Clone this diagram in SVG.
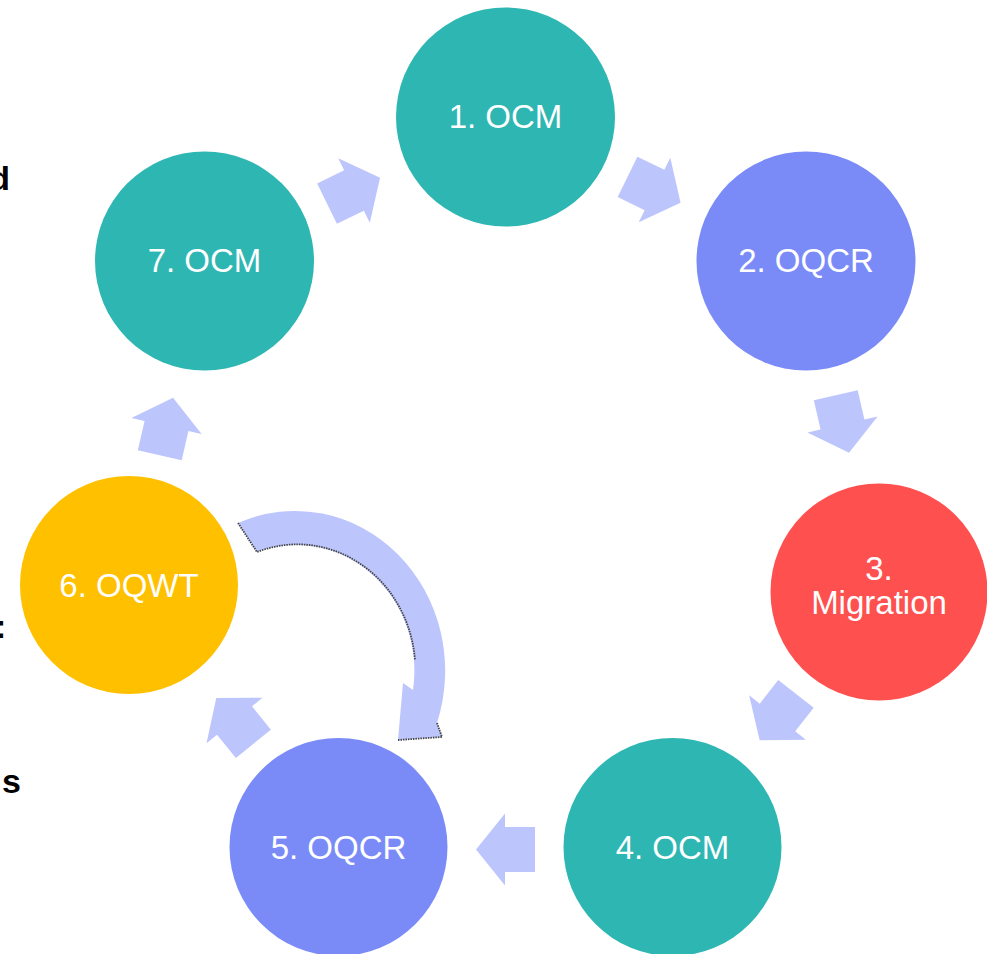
<svg xmlns="http://www.w3.org/2000/svg" width="987" height="954" viewBox="0 0 987 954">
<style>
.lbl{font-family:"Liberation Sans",Arial,sans-serif;font-size:33px;fill:#ffffff;text-anchor:middle}
.edge{font-family:"Liberation Sans",Arial,sans-serif;font-size:34px;font-weight:bold;fill:#000000}
.teal{fill:#2EB6B3}
.blue{fill:#7A8BF8}
.red{fill:#FF5050}
.yellow{fill:#FFC000}
.arr{fill:#BDC5FD}
.rim{fill:none;stroke:#444444;stroke-width:1.8;stroke-dasharray:1.5 1}
</style>
<defs>
<path id="blk" d="M-30,-22.5 L0,-22.5 L0,-36 L29,0 L0,36 L0,22.5 L-30,22.5 Z"/>
</defs>
<rect width="987" height="954" fill="#ffffff"/>
<text class="edge" x="10" y="190" text-anchor="end">d</text>
<text class="edge" x="-5" y="638">:</text>
<text class="edge" x="2" y="793">s</text>
<g id="connectors">
<use href="#blk" class="arr" transform="translate(354,190.5) rotate(-26)"/>
<use href="#blk" class="arr" transform="translate(654.5,190) rotate(26)"/>
<use href="#blk" class="arr" transform="translate(842.5,424.5) rotate(77)"/>
<use href="#blk" class="arr" transform="translate(777.5,717.5) rotate(128)"/>
<use href="#blk" class="arr" transform="translate(505,849.5) rotate(180)"/>
<use href="#blk" class="arr" transform="translate(234.5,720.5) rotate(231)"/>
<use href="#blk" class="arr" transform="translate(166.5,426) rotate(283)"/>
<g id="curved-arrow">
<path class="arr" d="M238,523 A150,160 0 0 1 437,723 L442,737 L398,740 L403,683 L413,690 A118,126 0 0 0 257,552 Z"/>
<path class="rim" d="M238,523 L257,552 A118,126 0 0 1 415,660"/>
<path class="rim" d="M437,723 L442,737 L398,740"/>
</g>
</g>
<g id="n1"><circle class="teal" cx="505.5" cy="117" r="109.5"/><text class="lbl" x="505.5" y="128">1. OCM</text></g>
<g id="n2"><circle class="blue" cx="806" cy="261" r="109.5"/><text class="lbl" x="806" y="272">2. OQCR</text></g>
<g id="n3"><circle class="red" cx="879" cy="592" r="108.5"/><text class="lbl" x="879" y="580">3.</text><text class="lbl" x="879" y="614">Migration</text></g>
<g id="n4"><circle class="teal" cx="672.5" cy="847" r="109"/><text class="lbl" x="672.5" y="859">4. OCM</text></g>
<g id="n5"><circle class="blue" cx="338.5" cy="847" r="109"/><text class="lbl" x="338.5" y="859">5. OQCR</text></g>
<g id="n6"><circle class="yellow" cx="129" cy="585" r="109"/><text class="lbl" x="129" y="597">6. OQWT</text></g>
<g id="n7"><circle class="teal" cx="204.5" cy="261" r="109.5"/><text class="lbl" x="204.5" y="272">7. OCM</text></g>
</svg>
